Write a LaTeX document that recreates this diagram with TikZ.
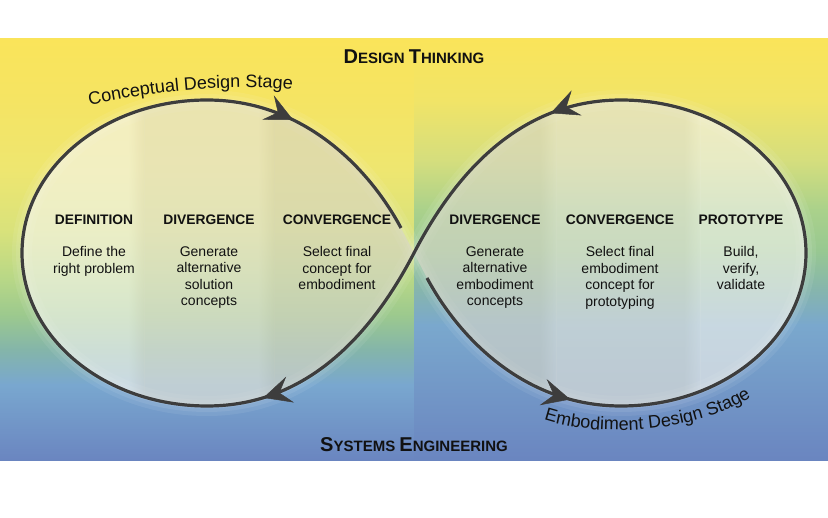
\documentclass[tikz,border=0pt]{standalone}
\usepackage{fontspec}
\setmainfont{Liberation Sans}
\usetikzlibrary{arrows.meta,decorations.markings,decorations.text}
\definecolor{lineC}{HTML}{3D3D3D}
\definecolor{txtC}{HTML}{111111}
% left half background stops
\definecolor{La}{HTML}{FAE45A}
\definecolor{Lb}{HTML}{F5E463}
\definecolor{Lc}{HTML}{EEE670}
\definecolor{Ld}{HTML}{D9E27B}
\definecolor{Le}{HTML}{B7D787}
\definecolor{Lf}{HTML}{9CC98E}
\definecolor{Lg}{HTML}{84B5AA}
\definecolor{Lh}{HTML}{79A7CF}
\definecolor{Li}{HTML}{6A85C0}
% right half background stops
\definecolor{Ra}{HTML}{FAE45A}
\definecolor{Rb}{HTML}{F1E467}
\definecolor{Rc}{HTML}{D5DE7D}
\definecolor{Rd}{HTML}{AAD18B}
\definecolor{Re}{HTML}{98C891}
\definecolor{Rf}{HTML}{86B5AD}
\definecolor{Rg}{HTML}{7AA8CD}
\definecolor{Rh}{HTML}{6A85C0}
% loop overlays
\definecolor{ca}{HTML}{F5F5EE}
\definecolor{cb}{HTML}{E6E4D8}
\definecolor{cc}{HTML}{D8D6C6}
\definecolor{ra}{HTML}{D6D6C8}
\definecolor{rb}{HTML}{E4E4DA}
\definecolor{rc}{HTML}{F2F2EC}
\newcommand\capsA[2]{{\fontsize{20}{20}\selectfont #1}{\fontsize{15}{15}\selectfont #2}}
\begin{document}
\begin{tikzpicture}[x=1pt,y=-1pt,
  curve/.style={draw=lineC, line width=3.2pt},
  title/.style={font=\fontsize{15}{15}\selectfont\bfseries, text=txtC, anchor=base, inner sep=0pt},
  head/.style={font=\fontsize{13.8}{14}\selectfont\bfseries, text=txtC, anchor=base, inner sep=0pt},
  body/.style={font=\fontsize{14}{16.5}\selectfont, text=txtC, align=center, anchor=north, inner sep=0pt},
  arrowat/.style={decorate, decoration={markings, mark=at position #1 with {\arrow{Stealth[length=28pt,width=27pt,inset=11pt,line width=0.5pt,color=lineC,fill=lineC]}}}},
  ov/.style={opacity=0.65}]
\useasboundingbox (0,0) rectangle (828,518);
\fill[white] (0,0) rectangle (828,518);
% ---- background, left half
\shade[top color=La,bottom color=Lb] (0,39) rectangle (414,100);
\shade[top color=Lb,bottom color=Lc] (0,100) rectangle (414,170);
\shade[top color=Lc,bottom color=Ld] (0,170) rectangle (414,230);
\shade[top color=Ld,bottom color=Le] (0,230) rectangle (414,280);
\shade[top color=Le,bottom color=Lf] (0,280) rectangle (414,315);
\shade[top color=Lf,bottom color=Lg] (0,315) rectangle (414,350);
\shade[top color=Lg,bottom color=Lh] (0,350) rectangle (414,385);
\shade[top color=Lh,bottom color=Li] (0,385) rectangle (414,461);
% ---- background, right half
\shade[top color=Ra,bottom color=Rb] (414,39) rectangle (828,100);
\shade[top color=Rb,bottom color=Rc] (414,100) rectangle (828,160);
\shade[top color=Rc,bottom color=Rd] (414,160) rectangle (828,210);
\shade[top color=Rd,bottom color=Re] (414,210) rectangle (828,250);
\shade[top color=Re,bottom color=Rf] (414,250) rectangle (828,290);
\shade[top color=Rf,bottom color=Rg] (414,290) rectangle (828,325);
\shade[top color=Rg,bottom color=Rh] (414,325) rectangle (828,461);
% ---- key points of the figure eight
\coordinate (X) at (414,253);
\coordinate (Ltop) at (207,100);
\coordinate (Lleft) at (22,253);
\coordinate (Lbot) at (207,406);
\coordinate (Rtop) at (621,100);
\coordinate (Rright) at (806,253);
\coordinate (Rbot) at (621,406);
\coordinate (Gin) at (401,228);
\coordinate (Gout) at (427,278);
\def\leftloop{(Lbot) .. controls (105,406) and (22,338) .. (Lleft) .. controls (22,168) and (105,100) .. (Ltop) .. controls (305,100) and (370,170) .. (Gin) -- (X) .. controls (374,330) and (310,406) .. (Lbot) -- cycle}
\def\rightloop{(X) -- (Gout) .. controls (458,336) and (523,406) .. (Rbot) .. controls (723,406) and (806,338) .. (Rright) .. controls (806,168) and (723,100) .. (Rtop) .. controls (518,100) and (454,176) .. (X) -- cycle}
% ---- soft glow
\foreach \w/\o in {20/0.07, 12/0.08, 5/0.10}{
  \draw[white, line width=\w pt, opacity=\o] \leftloop;
  \draw[white, line width=\w pt, opacity=\o] \rightloop;
}
% ---- translucent columns inside the loops
\begin{scope}
\clip \leftloop;
\fill[ca, ov] (0,39) rectangle (128,461);
\shade[left color=ca, right color=cb, ov] (128,39) rectangle (144,461);
\fill[cb, ov] (144,39) rectangle (258,461);
\shade[left color=cb, right color=cc, ov] (258,39) rectangle (274,461);
\fill[cc, ov] (274,39) rectangle (420,461);
\end{scope}
\begin{scope}
\clip \rightloop;
\fill[ra, ov] (408,39) rectangle (540,461);
\shade[left color=ra, right color=rb, ov] (540,39) rectangle (556,461);
\fill[rb, ov] (556,39) rectangle (684,461);
\shade[left color=rb, right color=rc, ov] (684,39) rectangle (700,461);
\fill[rc, ov] (700,39) rectangle (828,461);
\end{scope}
% ---- the figure-eight line
\draw[curve] (Gout) .. controls (458,336) and (523,406) .. (Rbot)
  .. controls (723,406) and (806,338) .. (Rright)
  .. controls (806,168) and (723,100) .. (Rtop)
  .. controls (518,100) and (454,176) .. (X)
  .. controls (374,330) and (310,406) .. (Lbot)
  .. controls (105,406) and (22,338) .. (Lleft)
  .. controls (22,168) and (105,100) .. (Ltop)
  .. controls (305,100) and (370,170) .. (Gin);
% ---- arrowheads
\path[arrowat=0.365] (Ltop) .. controls (305,100) and (370,170) .. (Gin);
\path[arrowat=0.79] (Gout) .. controls (458,336) and (523,406) .. (Rbot);
\path[arrowat=0.265] (Rtop) .. controls (518,100) and (454,176) .. (X);
\path[arrowat=0.79] (X) .. controls (374,330) and (310,406) .. (Lbot);
% ---- stage labels along arcs
\path[decorate, decoration={text along path, text align=center,
  text={|\fontsize{18}{18}\selectfont\color{txtC}|Conceptual Design Stage}}]
  (82,107) .. controls (146,92) and (238,82) .. (300,91);
\path[decorate, decoration={text along path, text align=center,
  text={|\fontsize{18}{18}\selectfont\color{txtC}|Embodiment Design Stage}}]
  (536,417) .. controls (596,441) and (706,432) .. (758,392);
% ---- titles
\node[title] (dt) at (414,63.5) {\capsA{D}{ESIGN} \capsA{T}{HINKING}};
\node[title] (se) at (414,451.5) {\capsA{S}{YSTEMS} \capsA{E}{NGINEERING}};
% ---- column headings
\node[head] (h1) at (94,225) {DEFINITION};
\node[head] (h2) at (209,225) {DIVERGENCE};
\node[head] (h3) at (337,225) {CONVERGENCE};
\node[head] (h4) at (495,225) {DIVERGENCE};
\node[head] (h5) at (620,225) {CONVERGENCE};
\node[head] (h6) at (741,225) {PROTOTYPE};
% ---- column texts
\node[body] (b1) at (94,246.3) {Define the\\right problem};
\node[body] (b2) at (209,246.3) {Generate\\alternative\\solution\\concepts};
\node[body] (b3) at (337,246.3) {Select final\\concept for\\embodiment};
\node[body] (b4) at (495,246.3) {Generate\\alternative\\embodiment\\concepts};
\node[body] (b5) at (620,246.3) {Select final\\embodiment\\concept for\\prototyping};
\node[body] (b6) at (741,246.3) {Build,\\verify,\\validate};
\end{tikzpicture}
\end{document}
